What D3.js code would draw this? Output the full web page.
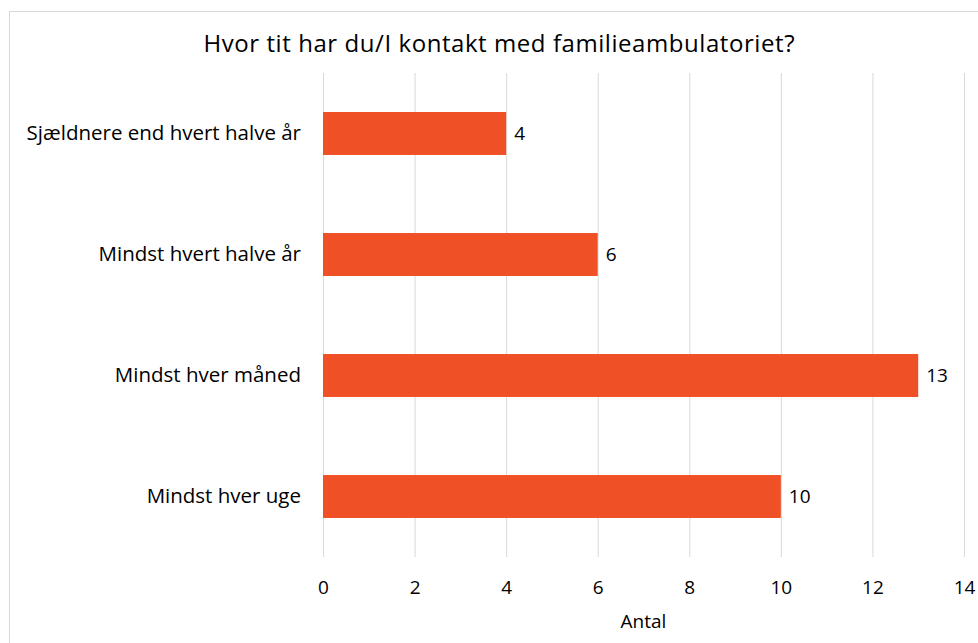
<!DOCTYPE html>
<html>
<head>
<meta charset="utf-8">
<script src="https://cdn.jsdelivr.net/npm/d3@7"></script>
<style>
  body { margin: 0; background: #fff; }
  text { font-family: "Open Sans", "Noto Sans", sans-serif; fill: #000; }
</style>
</head>
<body>
<div id="chart"></div>
<script>
// chart data
const categories = ['Sjældnere end hvert halve år', 'Mindst hvert halve år', 'Mindst hver måned', 'Mindst hver uge'];
const values = [4, 6, 13, 10];
const xTicks = [0, 2, 4, 6, 8, 10, 12, 14];

const width = 978, height = 643;
const margin = { top: 73, right: 14, bottom: 86, left: 323 };
const plotW = width - margin.left - margin.right;
const plotH = height - margin.top - margin.bottom;

const svg = d3.select('#chart').append('svg')
    .attr('width', width)
    .attr('height', height);

// outer frame (right edge is cut off in the original)
svg.append('rect')
    .attr('x', 9.5).attr('y', 11.5)
    .attr('width', 1000).attr('height', 700)
    .attr('fill', 'none')
    .attr('stroke', '#d9d9d9');

svg.append('text')
    .attr('x', 499).attr('y', 52)
    .attr('text-anchor', 'middle')
    .attr('font-size', '24px')
    .attr('textLength', 591)
    .text('Hvor tit har du/I kontakt med familieambulatoriet?');

const g = svg.append('g').attr('transform', `translate(${margin.left},${margin.top})`);

const x = d3.scaleLinear().domain([0, 14]).range([0, plotW]);
const y = d3.scaleBand().domain(categories).range([0, plotH]).paddingInner(0.645).paddingOuter(0.3225);

// vertical gridlines
g.selectAll('.grid')
    .data(xTicks)
    .enter().append('line')
    .attr('x1', d => x(d) + 0.5).attr('x2', d => x(d) + 0.5)
    .attr('y1', 0).attr('y2', plotH)
    .attr('stroke', '#d9d9d9');

g.selectAll('.bar')
    .data(values)
    .enter().append('rect')
    .attr('x', x(0))
    .attr('y', (d, i) => y(categories[i]))
    .attr('width', d => x(d))
    .attr('height', y.bandwidth())
    .attr('fill', '#f05025');

// value labels
g.selectAll('.val')
    .data(values)
    .enter().append('text')
    .attr('x', d => x(d) + 8)
    .attr('y', (d, i) => y(categories[i]) + y.bandwidth() / 2)
    .attr('dy', '0.35em')
    .attr('font-size', '19px')
    .text(d => d);

// x axis
const xAxis = g.append('g')
    .attr('transform', `translate(0,${plotH})`)
    .call(d3.axisBottom(x).tickValues(xTicks).tickSize(0).tickPadding(24));
xAxis.select('.domain').remove();
xAxis.selectAll('text')
    .attr('font-size', '19px')
    .attr('font-family', '"Open Sans", sans-serif');

// y axis
const yAxis = g.append('g')
    .call(d3.axisLeft(y).tickSize(0).tickPadding(22));
yAxis.select('.domain').remove();
yAxis.selectAll('text')
    .attr('font-size', '20.5px')
    .attr('font-family', '"Open Sans", sans-serif');

svg.append('text')
    .attr('x', margin.left + x(7))
    .attr('y', 628)
    .attr('text-anchor', 'middle')
    .attr('font-size', '19px')
    .text('Antal');
</script>
</body>
</html>
